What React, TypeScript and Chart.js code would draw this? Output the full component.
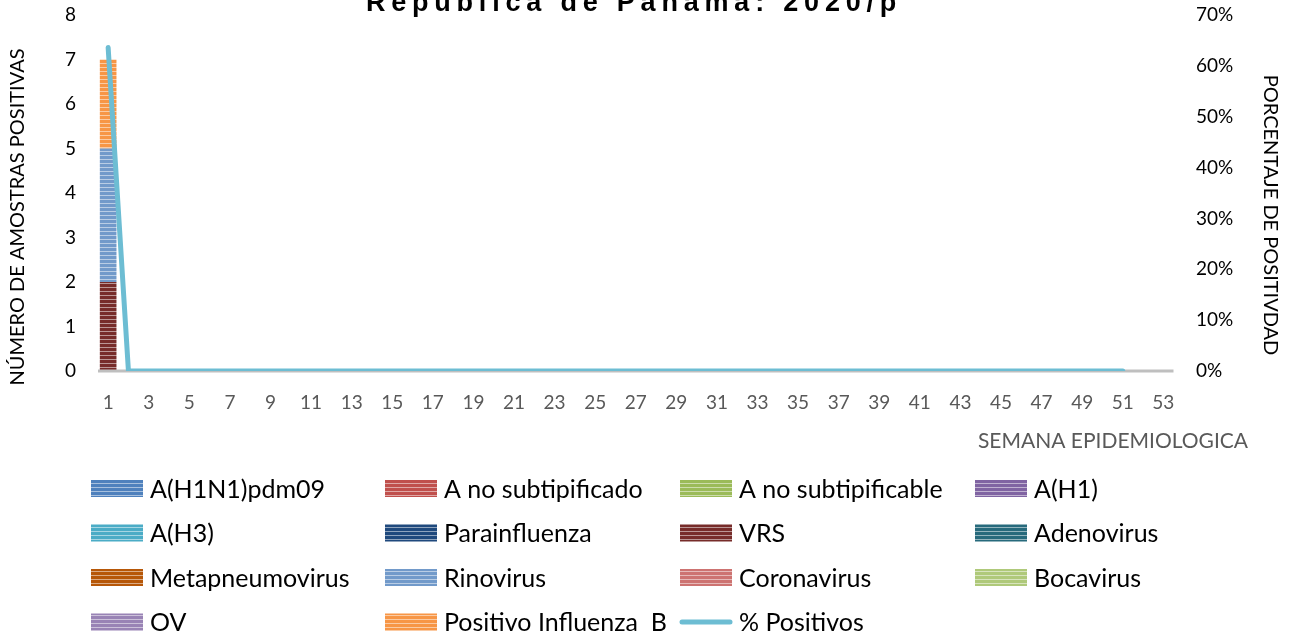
import React, { useEffect, useRef } from 'react';
import { Chart, registerables } from 'chart.js';

Chart.register(...registerables);

// ---------- DATA ----------
const weeks: string[] = [
  '1', '2', '3', '4', '5', '6', '7', '8', '9', '10', '11', '12', '13', '14', '15', '16', '17', '18',
  '19', '20', '21', '22', '23', '24', '25', '26', '27', '28', '29', '30', '31', '32', '33', '34', '35',
  '36', '37', '38', '39', '40', '41', '42', '43', '44', '45', '46', '47', '48', '49', '50', '51', '52', '53',
];

const seriesNames: string[] = [
  'A(H1N1)pdm09', 'A no subtipificado', 'A no subtipificable', 'A(H1)',
  'A(H3)', 'Parainfluenza', 'VRS', 'Adenovirus',
  'Metapneumovirus', 'Rinovirus', 'Coronavirus', 'Bocavirus',
  'OV', 'Positivo Influenza  B',
];

const aH1N1pdm09: number[] = [0];
const aNoSubtipificado: number[] = [0];
const aNoSubtipificable: number[] = [0];
const aH1: number[] = [0];
const aH3: number[] = [0];
const parainfluenza: number[] = [0];
const vrs: number[] = [2];
const adenovirus: number[] = [0];
const metapneumovirus: number[] = [0];
const rinovirus: number[] = [3];
const coronavirus: number[] = [0];
const bocavirus: number[] = [0];
const ov: number[] = [0];
const positivoInfluenzaB: number[] = [2];

const lineName = '% Positivos';
const pctPositivos: number[] = [
  63.6, 0, 0, 0, 0, 0, 0, 0, 0, 0, 0, 0, 0, 0, 0, 0, 0, 0, 0, 0, 0, 0, 0, 0, 0, 0,
  0, 0, 0, 0, 0, 0, 0, 0, 0, 0, 0, 0, 0, 0, 0, 0, 0, 0, 0, 0, 0, 0, 0, 0, 0,
];

const leftTicksMax = 8;
const rightTicksMax = 70;

const titleText = 'República de Panamá: 2020/p';
const leftAxisTitle = 'NÚMERO DE AMOSTRAS POSITIVAS';
const rightAxisTitle = 'PORCENTAJE DE POSITIVDAD';
const xAxisTitle = 'SEMANA EPIDEMIOLOGICA';

// ---------- STYLE ----------
const seriesColors: string[] = [
  '#4F81BD', '#C0504D', '#9BBB59', '#8064A2',
  '#4BACC6', '#1F497D', '#772C2A', '#276A7C',
  '#B65708', '#729ACA', '#CD7371', '#AFC97A',
  '#9983B5', '#F79646',
];
const lineColor = '#6DBDD3';
const FONT = 'Lato, "Open Sans", sans-serif';

function makePattern(ctx: CanvasRenderingContext2D, color: string) {
  const c = document.createElement('canvas');
  c.width = 8;
  c.height = 4;
  const g = c.getContext('2d')!;
  g.fillStyle = color;
  g.fillRect(0, 0, 8, 4);
  g.fillStyle = 'rgba(255,255,255,0.5)';
  g.fillRect(0, 3, 8, 1);
  return ctx.createPattern(c, 'repeat')!;
}

export default function App() {
  const ref = useRef<HTMLCanvasElement | null>(null);

  useEffect(() => {
    const canvas = ref.current!;
    const ctx = canvas.getContext('2d')!;
    const patterns = seriesColors.map((c) => makePattern(ctx, c));
    const barData = [
      aH1N1pdm09, aNoSubtipificado, aNoSubtipificable, aH1,
      aH3, parainfluenza, vrs, adenovirus,
      metapneumovirus, rinovirus, coronavirus, bocavirus,
      ov, positivoInfluenzaB,
    ];

    const datasets: any[] = barData.map((d, i) => ({
      type: 'bar',
      label: seriesNames[i],
      data: d,
      backgroundColor: patterns[i],
      borderWidth: 0,
      yAxisID: 'y',
      stack: 's',
      order: 1,
      categoryPercentage: 1,
      barPercentage: 0.82,
    }));
    datasets.push({
      type: 'line',
      label: lineName,
      data: pctPositivos,
      borderColor: lineColor,
      borderWidth: 5,
      borderCapStyle: 'round',
      borderJoinStyle: 'round',
      pointRadius: 0,
      tension: 0,
      yAxisID: 'y1',
      order: 0,
    });

    const decorations = {
      id: 'decorations',
      beforeDatasetDraw(chart: any, args: any) {
        if (args.meta.type !== 'line') return;
        const c = chart.ctx;
        const a = chart.chartArea;
        c.save();
        c.strokeStyle = '#BFBFBF';
        c.lineWidth = 3;
        c.beginPath();
        c.moveTo(a.left, a.bottom);
        c.lineTo(a.right, a.bottom);
        c.stroke();
        c.restore();
      },
      afterDraw(chart: any) {
        const c: CanvasRenderingContext2D = chart.ctx;
        c.save();
        // title (partially cut off at top)
        c.font = 'bold 27px "Liberation Sans", Arial, sans-serif';
        (c as any).letterSpacing = '5.8px';
        c.fillStyle = '#000';
        c.textAlign = 'center';
        c.textBaseline = 'alphabetic';
        c.fillText(titleText, 634, 10.5);
        (c as any).letterSpacing = '0px';

        // left axis title
        c.font = `20px ${FONT}`;
        c.fillStyle = '#000';
        c.textBaseline = 'middle';
        c.save();
        c.translate(18, 217);
        c.rotate(-Math.PI / 2);
        c.fillText(leftAxisTitle, 0, 0);
        c.restore();

        // right axis title
        c.save();
        c.translate(1270, 215);
        c.rotate(Math.PI / 2);
        c.fillText(rightAxisTitle, 0, 0);
        c.restore();

        // x axis title
        c.font = `21px ${FONT}`;
        c.fillStyle = '#595959';
        c.textAlign = 'center';
        c.fillText(xAxisTitle, 1113, 441.5);

        // legend
        const cols = [91, 385, 680, 975];
        const rows = [488.5, 533, 577.5, 622];
        const items = chart.data.datasets;
        c.font = `25px ${FONT}`;
        c.textAlign = 'left';
        c.textBaseline = 'middle';
        items.forEach((ds: any, i: number) => {
          const x = cols[i % 4];
          const y = rows[Math.floor(i / 4)];
          if (ds.type === 'line') {
            c.strokeStyle = ds.borderColor;
            c.lineWidth = 5;
            c.lineCap = 'round';
            c.beginPath();
            c.moveTo(x + 2, y);
            c.lineTo(x + 50, y);
            c.stroke();
          } else {
            c.fillStyle = ds.backgroundColor;
            c.fillRect(x, y - 8.5, 52, 17);
          }
          c.fillStyle = '#000';
          c.fillText(ds.label, x + 59, y + 1);
        });
        c.restore();
      },
    };

    const chart = new Chart(canvas, {
      type: 'bar',
      data: { labels: weeks, datasets },
      options: {
        animation: false,
        responsive: false,
        devicePixelRatio: 1,
        layout: { padding: { top: 15, left: 0, right: 0, bottom: 0 } },
        plugins: {
          legend: { display: false },
          title: { display: false },
          tooltip: { enabled: false },
        },
        scales: {
          x: {
            stacked: true,
            offset: true,
            grid: { display: false, drawTicks: false },
            border: { display: false },
            ticks: {
              autoSkip: false,
              maxRotation: 0,
              minRotation: 0,
              padding: 20,
              color: '#595959',
              font: { family: FONT, size: 19 },
              callback: (_v: any, i: number) => (i % 2 === 0 ? weeks[i] : ''),
            },
            afterFit: (s: any) => {
              s.height = 263;
              s.paddingLeft = 0;
              s.paddingRight = 0;
            },
          },
          y: {
            type: 'linear',
            position: 'left',
            stacked: true,
            min: 0,
            max: leftTicksMax,
            grid: { display: false, drawTicks: false },
            border: { display: false },
            ticks: {
              stepSize: 1,
              padding: 22,
              color: '#000',
              font: { family: FONT, size: 19 },
            },
            afterFit: (s: any) => {
              s.width = 98;
              s.paddingTop = 0;
              s.paddingBottom = 0;
            },
          },
          y1: {
            type: 'linear',
            position: 'right',
            min: 0,
            max: rightTicksMax,
            grid: { display: false, drawTicks: false },
            border: { display: false },
            ticks: {
              stepSize: 10,
              padding: 22.5,
              color: '#000',
              font: { family: FONT, size: 19 },
              callback: (v: any) => `${v}%`,
            },
            afterFit: (s: any) => {
              s.width = 120.5;
              s.paddingTop = 0;
              s.paddingBottom = 0;
            },
          },
        },
      },
      plugins: [decorations],
    } as any);

    return () => chart.destroy();
  }, []);

  return (
    <div style={{ position: 'absolute', left: 0, top: 0, width: 1294, height: 634, background: '#fff' }}>
      <canvas ref={ref} width={1294} height={634} style={{ display: 'block', width: 1294, height: 634 }} />
    </div>
  );
}
